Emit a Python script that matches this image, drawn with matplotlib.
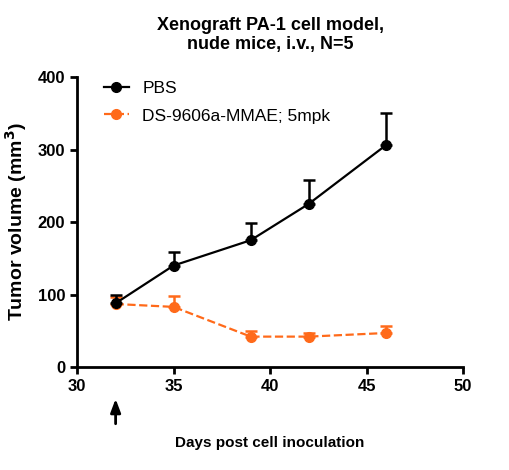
import matplotlib
matplotlib.use('Agg')
import matplotlib.pyplot as plt
from matplotlib.lines import Line2D

plt.rcParams['font.family'] = ['Liberation Sans', 'DejaVu Sans']

days = [32, 35, 39, 42, 46]
pbs = [88, 140, 175, 225, 306]
pbs_err = [11, 19, 24, 33, 45]
ds = [87, 83, 42, 42, 47]
ds_err = [10, 15, 8, 5, 9]

orange = '#ff6a1a'

fig = plt.figure(figsize=(5.1, 4.7), dpi=100)
ax = fig.add_axes([0.151, 0.219, 0.757, 0.617])

ax.errorbar(days, pbs, yerr=[[0] * 5, pbs_err], color='black', marker='o',
            markersize=7, lw=1.6, capsize=4, elinewidth=1.8, capthick=1.8,
            zorder=3)
ax.errorbar(days, ds, yerr=[[0] * 5, ds_err], color=orange, marker='o',
            markersize=7, lw=1.6, ls='--', capsize=4, elinewidth=1.8,
            capthick=1.8, zorder=2)

ax.set_xlim(30, 50)
ax.set_ylim(0, 400)
ax.set_xticks([30, 35, 40, 45, 50])
ax.set_yticks([0, 100, 200, 300, 400])
for s in ['top', 'right']:
    ax.spines[s].set_visible(False)
for s in ['left', 'bottom']:
    ax.spines[s].set_linewidth(2)
ax.tick_params(width=2, length=5, labelsize=12)
for t in ax.get_xticklabels() + ax.get_yticklabels():
    t.set_fontweight('bold')

ax.set_ylabel('Tumor volume (mm$\\mathbf{^3}$)', fontsize=14, fontweight='bold')
ax.yaxis.set_label_coords(-0.125, 0.5)
ax.set_xlabel('Days post cell inoculation', fontsize=11, fontweight='bold',
              labelpad=30)
ax.set_title('Xenograft PA-1 cell model,\nnude mice, i.v., N=5', fontsize=13,
             fontweight='bold', pad=20)

ax.annotate('', xy=(32, -40), xytext=(32, -82), xycoords='data',
            arrowprops=dict(arrowstyle='-|>,head_width=0.3,head_length=0.8',
                            color='black', lw=2), annotation_clip=False)

handles = [Line2D([], [], color='black', marker='o', markersize=7, lw=1.6),
           Line2D([], [], color=orange, marker='o', markersize=7, lw=1.6, ls='--')]
ax.legend(handles, ['PBS', 'DS-9606a-MMAE; 5mpk'], loc='upper left',
          frameon=False, fontsize=12.5, bbox_to_anchor=(0.03, 1.04),
          handlelength=1.4, handletextpad=0.8, labelspacing=0.7)

fig.savefig('out.png', dpi=100)
